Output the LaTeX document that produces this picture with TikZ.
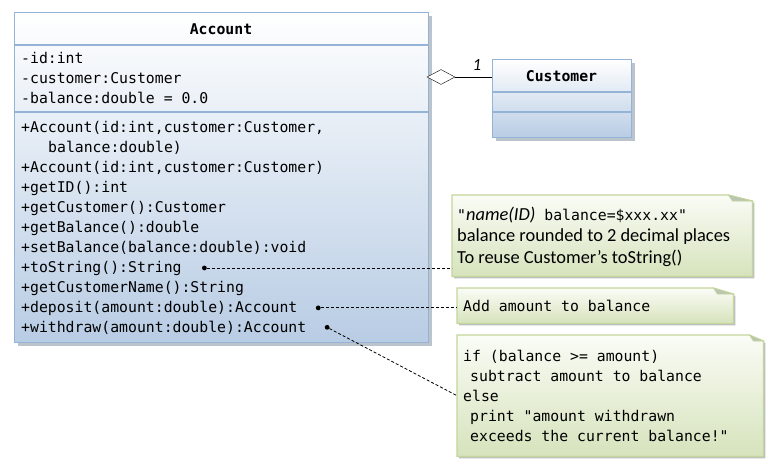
\documentclass[tikz,border=0pt]{standalone}
\usepackage{fontspec}
\setmainfont{Carlito}
\setmonofont{DejaVu Sans Mono}
\usetikzlibrary{positioning,shapes.geometric,shadows,backgrounds}

\definecolor{umlBorder}{RGB}{149,179,215}
\definecolor{umlBlue}{RGB}{184,204,228}
\definecolor{umlShadow}{RGB}{120,135,155}
\definecolor{noteBorder}{RGB}{195,214,155}
\definecolor{noteTop}{RGB}{250,252,246}
\definecolor{noteBottom}{RGB}{214,227,188}
\definecolor{noteFold}{RGB}{188,196,178}

\newcommand{\memberfont}{\ttfamily\fontsize{14.8}{20}\selectfont}
\newcommand{\notefont}{\fontsize{18.4}{21.5}\selectfont}

\begin{document}
\begin{tikzpicture}
[x=1pt,y=-1pt,
  umlBox/.style={draw=umlBorder,line width=1.2pt,top color=white,bottom color=umlBlue,
    anchor=north west,inner sep=0pt,
    drop shadow={shadow xshift=3pt,shadow yshift=-3pt,fill=umlShadow,opacity=0.5}},%
  umlSep/.style={umlBorder,line width=1.2pt},%
  member/.style={anchor=base west,inner sep=0pt,font=\memberfont},%
  className/.style={font=\memberfont\bfseries},%
  noteBody/.style={anchor=north west,inner sep=0pt},%
  noteText/.style={anchor=west,align=left,inner sep=0pt},%
  noteShape/.style={draw=noteBorder,line width=1.2pt,top color=noteTop,bottom color=noteBottom,
    drop shadow={shadow xshift=2pt,shadow yshift=-2pt,fill=black,opacity=0.25}},%
  noteDot/.style={shape=circle,fill=black,inner sep=1.7pt},%
  noteLine/.style={dash pattern=on 3pt off 2pt,line width=0.8pt},%
  aggDiamond/.style={shape=diamond,draw,fill=white,inner sep=0pt,
    minimum width=28pt,minimum height=15pt}]
\useasboundingbox (0,0) rectangle (777,474);

%% the two classes
\node (account) [umlBox,minimum width=414pt,minimum height=330pt] at (14,12) {};
\draw[umlSep] ([yshift=-33pt]account.north west) -- ([yshift=-33pt]account.north east);
\draw[umlSep] ([yshift=-100pt]account.north west) -- ([yshift=-100pt]account.north east);
\node (accountName) [className] at (221,29) {Account};

\node (customer) [umlBox,minimum width=139pt,minimum height=78pt] at (492,59) {};
\draw[umlSep] ([yshift=-33pt]customer.north west) -- ([yshift=-33pt]customer.north east);
\draw[umlSep] ([yshift=-53pt]customer.north west) -- ([yshift=-53pt]customer.north east);
\node (customerName) [className] at (561.5,76) {Customer};

%% the members
\foreach \name/\y/\txt in {attrId/63/{-id:int}, attrCust/83/{-customer:Customer},
  attrBal/103/{-balance:double = 0.0}}
{
  \node (\name) [member] at (21,\y) {\txt};
}
\foreach \name/\y/\txt in {ctorFull/132/{+Account(id:int,customer:Customer,},
  ctorCont/152/{\hspace*{27pt}balance:double)},
  ctorShort/172/{+Account(id:int,customer:Customer)},
  getID/192/{+getID():int}, getCustomer/212/{+getCustomer():Customer},
  getBalance/232/{+getBalance():double},
  setBalance/252/{+setBalance(balance:double):void},
  toString/272/{+toString():String}, getCustName/292/{+getCustomerName():String},
  deposit/312/{+deposit(amount:double):Account},
  withdraw/332/{+withdraw(amount:double):Account}}
{
  \node (\name) [member] at (21,\y) {\txt};
}

%% the aggregation
\node (diamond) [aggDiamond] at (441,77) {};
\draw (diamond.east) -- (diamond.east -| customer.west);
\node (multOne) at (477,65) {\fontsize{17}{20}\selectfont\itshape 1};

%% the notes
\node (noteA) [noteBody,minimum width=300pt,minimum height=81pt] at (452,195) {};
\node (noteB) [noteBody,minimum width=276pt,minimum height=35pt] at (457,288) {};
\node (noteC) [noteBody,minimum width=306pt,minimum height=121pt] at (457,335) {};

\begin{pgfonlayer}{background}
\foreach \n/\fold in {noteA/24, noteB/20, noteC/14}
{
  \draw[noteShape] (\n.north west) -- ([xshift=-\fold*1pt]\n.north east)
    -- ([yshift=-6pt]\n.north east) -- (\n.south east) -- (\n.south west) -- cycle;
  \filldraw[fill=noteFold,draw=noteBorder,line width=0.6pt] ([xshift=-\fold*1pt]\n.north east)
    -- ([yshift=-6pt]\n.north east) -- ([xshift=-\fold*1pt+4pt,yshift=-6pt]\n.north east) -- cycle;
}
\end{pgfonlayer}

\node (noteAText) [noteText,font=\notefont] at ([xshift=5pt,yshift=-1pt]noteA.west)
  {{\ttfamily\fontsize{14.8}{21.5}\selectfont"}\textit{name(ID)}{\ttfamily\fontsize{14.8}{21.5}\selectfont\ balance=\$xxx.xx"}\\
   balance rounded to 2 decimal places\\
   To reuse Customer’s toString()};
\node (noteBText) [noteText,font=\memberfont] at ([xshift=6pt]noteB.west)
  {Add amount to balance};
\node (noteCText) [noteText,font=\memberfont] at ([xshift=6pt]noteC.west)
  {if (balance >= amount)\\
   \hspace*{7pt}subtract amount to balance\\
   else\\
   \hspace*{7pt}print "amount withdrawn\\
   \hspace*{7pt}exceeds the current balance!"};

%% the note connectors
\node (dotToString) [noteDot,right=20pt of toString] {};
\node (dotDeposit) [noteDot,right=18pt of deposit] {};
\node (dotWithdraw) [noteDot,right=18pt of withdraw] {};
\draw[noteLine] (dotToString) -- (dotToString -| noteA.west);
\draw[noteLine] (dotDeposit) -- (dotDeposit -| noteB.west);
\draw[noteLine] (dotWithdraw) -- (noteC.west);
\end{tikzpicture}
\end{document}
